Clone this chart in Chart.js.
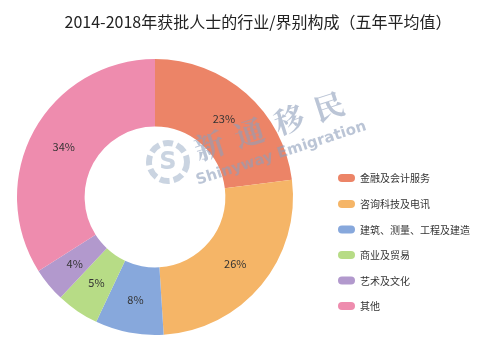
<!DOCTYPE html>
<html>
<head>
<meta charset="utf-8">
<script src="https://cdn.jsdelivr.net/npm/chart.js@4"></script>
<style>
  html, body { margin: 0; padding: 0; background: #fff; }
  #wrap { width: 500px; height: 358px; position: relative; }
</style>
</head>
<body>
<div id="wrap"><canvas id="c" width="500" height="358"></canvas></div>
<script>
const titleText = "2014-2018年获批人士的行业/界别构成（五年平均值）";
const categories = ["金融及会计服务", "咨询科技及电讯", "建筑、测量、工程及建造", "商业及贸易", "艺术及文化", "其他"];
const shares = [23, 26, 8, 5, 4, 34];
const sliceColors = ["#EC8467", "#F5B567", "#87A8DC", "#B7DC86", "#B299CD", "#EE8CAE"];

const FONT = '"Noto Sans CJK SC", "Noto Sans", sans-serif';

const decor = {
  id: 'decor',
  afterDatasetsDraw(chart) {
    const ctx = chart.ctx;
    const meta = chart.getDatasetMeta(0);
    // percent labels
    ctx.save();
    ctx.font = '11px ' + FONT;
    ctx.fillStyle = '#333';
    ctx.textAlign = 'center';
    ctx.textBaseline = 'middle';
    meta.data.forEach((arc, i) => {
      const p = arc.tooltipPosition();
      ctx.fillText(shares[i] + '%', p.x, p.y);
    });
    ctx.restore();

    // watermark
    ctx.save();
    ctx.globalAlpha = 0.6;
    ctx.fillStyle = '#8e9fba';
    ctx.translate(270, 132);
    ctx.rotate(-18 * Math.PI / 180);
    ctx.font = 'bold 30px "Noto Serif CJK SC", "Noto Sans CJK SC", serif';
    ctx.textAlign = 'center';
    ctx.textBaseline = 'middle';
    const wm = "新通移民";
    for (let k = 0; k < wm.length; k++) {
      ctx.fillText(wm[k], -62 + k * 42, -6);
    }
    ctx.font = 'bold 15px "DejaVu Sans", sans-serif';
    ctx.fillText("Shinyway Emigration", 4, 24);
    ctx.restore();
    // logo
    ctx.save();
    ctx.globalAlpha = 0.55;
    ctx.strokeStyle = '#9fb0c8';
    ctx.lineWidth = 6;
    ctx.setLineDash([10, 4]);
    ctx.beginPath();
    ctx.arc(168, 162, 19, 0, Math.PI * 2);
    ctx.stroke();
    ctx.setLineDash([]);
    ctx.fillStyle = '#9fb0c8';
    ctx.font = 'bold 24px "DejaVu Sans", sans-serif';
    ctx.textAlign = 'center';
    ctx.textBaseline = 'middle';
    ctx.fillText('S', 168, 163);
    ctx.restore();
  },
  afterDraw(chart) {
    const ctx = chart.ctx;
    ctx.save();
    // title
    ctx.font = '16px ' + FONT;
    ctx.fillStyle = '#222';
    ctx.textAlign = 'center';
    ctx.textBaseline = 'middle';
    ctx.fillText(titleText, 258, 22);
    // legend
    const ys = [178, 204, 229.5, 255, 280.5, 306];
    ctx.font = '10px ' + FONT;
    ctx.textAlign = 'left';
    ctx.fillStyle = '#333';
    chart.data.labels.forEach((lab, i) => {
      const y = ys[i];
      ctx.fillStyle = sliceColors[i];
      ctx.beginPath();
      ctx.roundRect(338, y - 4, 17, 8, 4);
      ctx.fill();
      ctx.fillStyle = '#333';
      ctx.fillText(lab, 360, y + 0.5);
    });
    ctx.restore();
  }
};

new Chart(document.getElementById('c'), {
  type: 'doughnut',
  data: {
    labels: categories,
    datasets: [{
      data: shares,
      backgroundColor: sliceColors,
      borderWidth: 0,
      hoverOffset: 0
    }]
  },
  options: {
    responsive: false,
    animation: false,
    cutout: '51%',
    layout: { padding: { top: 59, bottom: 23, left: 17, right: 207 } },
    plugins: {
      legend: { display: false },
      tooltip: { enabled: false },
      title: { display: false }
    }
  },
  plugins: [decor]
});
</script>
</body>
</html>
